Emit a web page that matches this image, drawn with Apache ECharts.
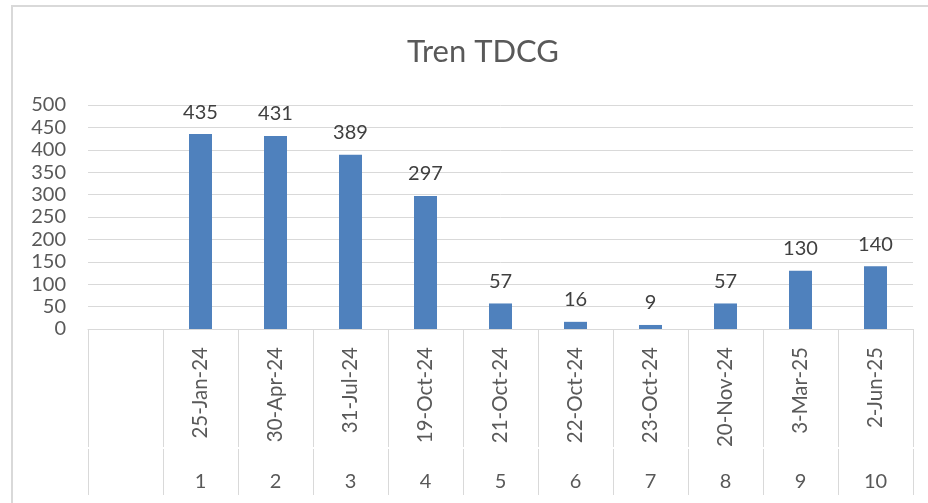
<!DOCTYPE html>
<html>
<head>
<meta charset="utf-8">
<script src="https://cdn.jsdelivr.net/npm/echarts@6/dist/echarts.min.js"></script>
<style>
  html, body { margin: 0; padding: 0; background: #fff; }
  #chart { width: 928px; height: 503px; }
</style>
</head>
<body>
<div id="chart"></div>
<script>
const dateLabels = ['', '25-Jan-24', '30-Apr-24', '31-Jul-24', '19-Oct-24', '21-Oct-24', '22-Oct-24', '23-Oct-24', '20-Nov-24', '3-Mar-25', '2-Jun-25'];
const indexLabels = ['', '1', '2', '3', '4', '5', '6', '7', '8', '9', '10'];
const values = ['-', 435, 431, 389, 297, 57, 16, 9, 57, 130, 140];
const yTicks = { min: 0, max: 500, interval: 50 };

const FONT = 'Lato';
const chart = echarts.init(document.getElementById('chart'), null, { renderer: 'canvas' });
chart.setOption({
  animation: false,
  backgroundColor: '#ffffff',
  graphic: [{
    type: 'rect',
    shape: { x: 12, y: 6, width: 940, height: 520 },
    style: { fill: 'none', stroke: '#d9d9d9', lineWidth: 2 },
    silent: true
  }],
  title: {
    text: 'Tren TDCG',
    left: 402,
    top: 31,
    textStyle: { fontFamily: FONT, fontSize: 31, fontWeight: 'normal', color: '#595959' }
  },
  grid: { left: 88, right: 15, top: 105, bottom: 174, containLabel: false },
  xAxis: [{
    type: 'category',
    data: dateLabels,
    position: 'bottom',
    axisLine: { show: true, lineStyle: { color: '#d9d9d9', width: 1 } },
    axisTick: { show: true, interval: 0, length: 118, lineStyle: { color: '#d9d9d9', width: 1 } },
    axisLabel: { interval: 0, rotate: 90, margin: 18, fontFamily: FONT, fontSize: 20.5, color: '#595959' },
    splitLine: { show: false }
  }, {
    type: 'category',
    data: indexLabels,
    position: 'bottom',
    offset: 120,
    axisLine: { show: false },
    axisTick: { show: true, interval: 0, length: 46, lineStyle: { color: '#d9d9d9', width: 1 } },
    axisLabel: { interval: 0, margin: 23, fontFamily: FONT, fontSize: 20, color: '#595959' },
    splitLine: { show: false }
  }],
  yAxis: {
    type: 'value',
    min: yTicks.min,
    max: yTicks.max,
    interval: yTicks.interval,
    axisLine: { show: false },
    axisTick: { show: false },
    axisLabel: { margin: 22, fontFamily: FONT, fontSize: 20, color: '#595959' },
    splitLine: { lineStyle: { color: '#d9d9d9', width: 1 } }
  },
  series: [{
    type: 'bar',
    xAxisIndex: 0,
    data: values,
    barWidth: 23,
    itemStyle: { color: '#4f81bd' },
    label: {
      show: true,
      position: 'top',
      distance: 12,
      fontFamily: FONT,
      fontSize: 20,
      color: '#404040'
    }
  }]
});
</script>
</body>
</html>
